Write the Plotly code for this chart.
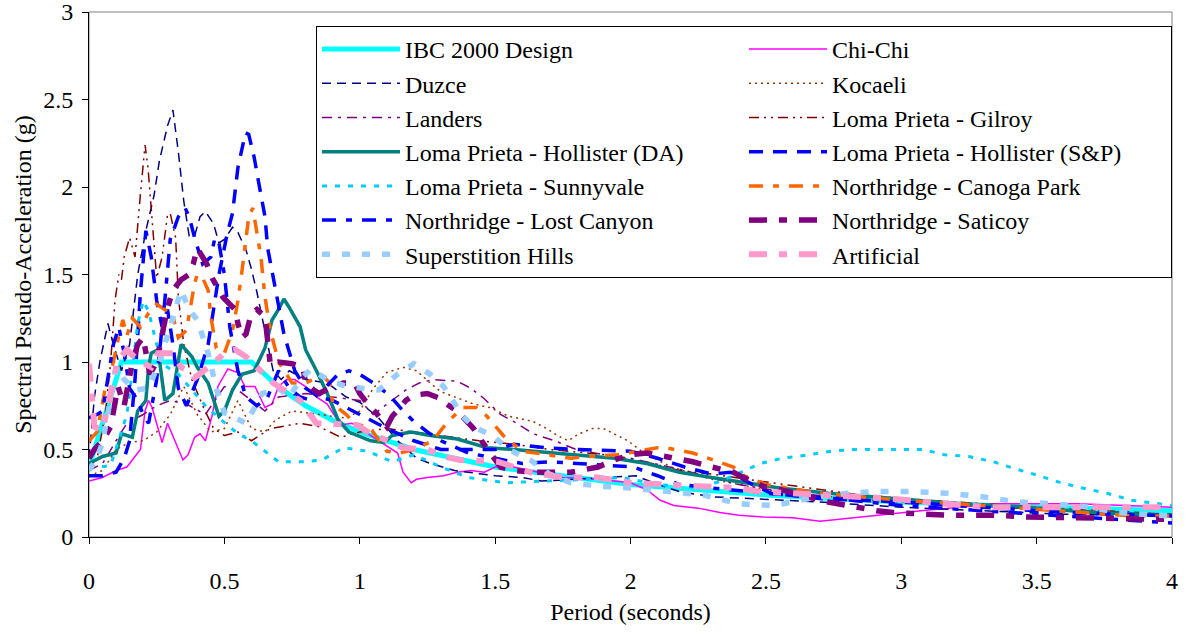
import plotly.graph_objects as go

# ---------------- data (period in s, spectral pseudo-acceleration in g) ----------------
T_IBC = [0, 0.12, 0.6, 0.7, 0.8, 0.9, 1.0, 1.2, 1.5, 2.0, 2.5, 3.0, 3.5, 4.0]
SA_IBC = [0.4, 1.0, 1.0, 0.857, 0.75, 0.667, 0.6, 0.5, 0.4, 0.3, 0.24, 0.2, 0.171, 0.15]

T_CHICHI = [0, 0.05, 0.1, 0.14, 0.17, 0.19, 0.207, 0.22, 0.233, 0.25, 0.27, 0.29, 0.32, 0.347, 0.366,
            0.39, 0.41, 0.43, 0.454, 0.476, 0.513, 0.55, 0.576, 0.613, 0.65, 0.676, 0.7, 0.73, 0.76,
            0.8, 0.84, 0.88, 0.9, 0.93, 0.97, 1.0, 1.03, 1.07, 1.11, 1.14, 1.16, 1.19, 1.21, 1.25,
            1.31, 1.36, 1.41, 1.46, 1.5, 1.54, 1.63, 1.75, 1.88, 2.0, 2.06, 2.11, 2.16, 2.25, 2.33,
            2.4, 2.49, 2.6, 2.7, 2.85, 2.97, 3.1, 3.22, 3.34, 3.46, 3.65, 3.83, 4.0]
SA_CHICHI = [0.32, 0.34, 0.38, 0.40, 0.46, 0.5, 0.72, 0.78, 0.74, 0.65, 0.54, 0.65, 0.54, 0.44, 0.47,
             0.57, 0.59, 0.55, 0.69, 0.86, 0.96, 0.94, 0.86, 0.86, 0.74, 0.76, 0.86, 0.9, 0.9,
             0.86, 0.8, 0.76, 0.71, 0.64, 0.65, 0.63, 0.59, 0.55, 0.51, 0.48, 0.37, 0.31, 0.33, 0.34,
             0.35, 0.37, 0.38, 0.37, 0.40, 0.41, 0.38, 0.34, 0.33, 0.31, 0.27, 0.21, 0.18, 0.165, 0.14,
             0.125, 0.115, 0.11, 0.09, 0.114, 0.135, 0.155, 0.17, 0.19, 0.19, 0.19, 0.18, 0.17]

T_DUZCE = [0, 0.02, 0.04, 0.07, 0.09, 0.12, 0.15, 0.18, 0.21, 0.24, 0.26, 0.29, 0.31, 0.33, 0.35,
           0.37, 0.39, 0.41, 0.43, 0.46, 0.48, 0.5, 0.53, 0.55, 0.58, 0.6, 0.62, 0.64, 0.66, 0.68,
           0.71, 0.74, 0.8, 0.88, 0.95, 1.0, 1.07, 1.14, 1.21, 1.26, 1.35, 1.45, 1.5, 1.6, 1.67,
           1.8, 1.9, 2.02, 2.1, 2.18, 2.3, 2.45, 2.7, 3.0, 3.3, 3.6, 4.0]
SA_DUZCE = [0.45, 0.8, 1.0, 1.22, 1.1, 0.95, 1.1, 1.5, 1.75, 1.95, 2.15, 2.35, 2.44, 2.2, 1.92,
            1.72, 1.72, 1.83, 1.86, 1.79, 1.68, 1.7, 1.77, 1.74, 1.64, 1.53, 1.4, 1.26, 1.1, 0.95,
            0.9, 0.95, 0.9, 0.88, 0.8, 0.77, 0.68, 0.55, 0.45, 0.42, 0.38, 0.36, 0.35, 0.34, 0.32,
            0.33, 0.34, 0.35, 0.3, 0.26, 0.23, 0.22, 0.2, 0.17, 0.15, 0.13, 0.12]

T_KOCAELI = [0, 0.05, 0.1, 0.15, 0.2, 0.25, 0.3, 0.35, 0.4, 0.45, 0.5, 0.55, 0.6, 0.65, 0.69, 0.75,
             0.85, 0.95, 1.0, 1.05, 1.1, 1.16, 1.21, 1.26, 1.3, 1.35, 1.42, 1.48, 1.55, 1.64, 1.69,
             1.73, 1.77, 1.81, 1.86, 1.9, 1.94, 1.99, 2.05, 2.15, 2.3, 2.5, 2.8, 3.0, 3.5, 4.0]
SA_KOCAELI = [0.35, 0.38, 0.5, 0.54, 0.55, 0.6, 0.7, 0.86, 0.7, 0.6, 0.62, 0.78, 0.62, 0.6, 0.67, 0.72,
              0.7, 0.68, 0.72, 0.85, 0.94, 0.97, 0.95, 0.88, 0.83, 0.8, 0.76, 0.74, 0.69, 0.66, 0.62,
              0.58, 0.55, 0.59, 0.62, 0.62, 0.59, 0.55, 0.48, 0.4, 0.33, 0.27, 0.22, 0.2, 0.16, 0.13]

T_LANDERS = [0, 0.05, 0.1, 0.14, 0.2, 0.25, 0.3, 0.36, 0.43, 0.5, 0.55, 0.6, 0.65, 0.7, 0.8, 0.9,
             1.0, 1.05, 1.1, 1.17, 1.22, 1.27, 1.36, 1.41, 1.46, 1.52, 1.58, 1.64, 1.72, 1.8, 1.9,
             2.0, 2.2, 2.4, 2.6, 3.0, 3.5, 4.0]
SA_LANDERS = [0.38, 0.42, 0.55, 0.65, 0.7, 0.75, 0.78, 0.76, 0.7, 0.86, 0.84, 0.78, 0.72, 0.8, 0.82, 0.8,
              0.78, 0.7, 0.76, 0.84, 0.88, 0.9, 0.89, 0.85, 0.79, 0.7, 0.65, 0.59, 0.55, 0.5, 0.47,
              0.45, 0.38, 0.3, 0.25, 0.2, 0.16, 0.13]

T_GILROY = [0, 0.03, 0.06, 0.08, 0.096, 0.11, 0.12, 0.13, 0.15, 0.17, 0.19, 0.207, 0.218, 0.233,
            0.25, 0.27, 0.29, 0.3, 0.32, 0.33, 0.35, 0.38, 0.42, 0.46, 0.5, 0.55, 0.6, 0.67, 0.78,
            0.85, 0.93, 1.0, 1.1, 1.2, 1.3, 1.44, 1.57, 1.7, 1.91, 2.08, 2.18, 2.3, 2.52, 2.8, 3.0,
            3.5, 4.0]
SA_GILROY = [0.4, 0.45, 0.7, 1.0, 1.35, 1.5, 1.47, 1.6, 1.71, 1.6, 1.96, 2.24, 2.11, 1.83,
             1.48, 1.6, 1.84, 1.85, 1.71, 1.37, 1.1, 0.9, 0.75, 0.62, 0.58, 0.6, 0.55, 0.62, 0.65,
             0.63, 0.57, 0.6, 0.62, 0.6, 0.58, 0.55, 0.53, 0.5, 0.47, 0.42, 0.38, 0.36, 0.31, 0.25, 0.22,
             0.17, 0.13]

T_HOLL_DA = [0, 0.05, 0.1, 0.12, 0.16, 0.18, 0.21, 0.22, 0.23, 0.255, 0.28, 0.31, 0.34, 0.38, 0.4,
             0.44, 0.48, 0.5, 0.53, 0.565, 0.61, 0.65, 0.676, 0.7, 0.72, 0.74, 0.78, 0.8, 0.84, 0.88,
             0.92, 0.96, 1.04, 1.09, 1.12, 1.19, 1.26, 1.36, 1.47, 1.57, 1.79, 1.94, 2.06, 2.18, 2.3,
             2.43, 2.55, 2.73, 2.97, 3.22, 3.46, 3.71, 4.0]
SA_HOLL_DA = [0.42, 0.46, 0.48, 0.59, 0.57, 0.72, 0.78, 0.97, 1.05, 1.07, 0.78, 0.82, 1.1, 1.03, 0.97,
              0.88, 0.69, 0.72, 0.84, 0.93, 0.95, 1.08, 1.24, 1.3, 1.36, 1.31, 1.2, 1.07, 0.95, 0.82,
              0.67, 0.6, 0.55, 0.54, 0.58, 0.6, 0.58, 0.56, 0.51, 0.5, 0.47, 0.45, 0.42, 0.37, 0.34,
              0.31, 0.28, 0.25, 0.22, 0.19, 0.17, 0.14, 0.125]

T_HOLL_SP = [0, 0.05, 0.1, 0.13, 0.15, 0.17, 0.19, 0.21, 0.23, 0.25, 0.27, 0.29, 0.31, 0.33, 0.36,
             0.4, 0.44, 0.48, 0.51, 0.53, 0.55, 0.565, 0.578, 0.59, 0.61, 0.625, 0.65, 0.66, 0.676,
             0.69, 0.72, 0.76, 0.8, 0.85, 0.9, 1.0, 1.1, 1.2, 1.3, 1.4, 1.5, 1.57, 1.69, 1.81, 2.0,
             2.1, 2.2, 2.3, 2.37, 2.45, 2.52, 2.7, 3.0, 3.3, 3.6, 4.0]
SA_HOLL_SP = [0.35, 0.35, 0.37, 0.45, 0.55, 0.9, 1.4, 1.75, 1.6, 1.35, 1.2, 1.3, 1.1, 0.85, 0.75,
              0.9, 1.1, 1.5, 1.73, 1.85, 2.11, 2.22, 2.31, 2.3, 2.17, 2.04, 1.83, 1.65, 1.52,
              1.39, 1.16, 0.95, 0.85, 0.8, 0.78, 0.7, 0.62, 0.55, 0.5, 0.5, 0.5, 0.53, 0.51, 0.5, 0.49,
              0.45, 0.4, 0.36, 0.37, 0.3, 0.25, 0.22, 0.2, 0.17, 0.14, 0.12]

T_SUNNY = [0, 0.04, 0.08, 0.11, 0.14, 0.16, 0.18, 0.2, 0.22, 0.25, 0.28, 0.33, 0.38, 0.43, 0.48,
           0.55, 0.6, 0.64, 0.7, 0.79, 0.86, 0.94, 1.03, 1.12, 1.2, 1.3, 1.4, 1.54, 1.71, 1.85, 1.97,
           2.1, 2.26, 2.35, 2.48, 2.56, 2.66, 2.74, 2.82, 2.91, 3.0, 3.08, 3.16, 3.25, 3.34, 3.42,
           3.51, 3.59, 3.67, 3.76, 3.85, 3.94, 4.0]
SA_SUNNY = [0.4, 0.4, 0.41, 0.55, 0.7, 0.95, 1.22, 1.35, 1.29, 1.1, 0.98, 0.93, 0.84, 0.75, 0.68,
            0.59, 0.55, 0.5, 0.43, 0.43, 0.44, 0.51, 0.49, 0.43, 0.47, 0.4, 0.34, 0.31, 0.32, 0.33, 0.34,
            0.3, 0.28, 0.33, 0.42, 0.45, 0.47, 0.49, 0.5, 0.5, 0.5, 0.5, 0.47, 0.46, 0.43, 0.39,
            0.35, 0.31, 0.28, 0.25, 0.21, 0.19, 0.18]

T_CANOGA = [0, 0.03, 0.06, 0.09, 0.11, 0.125, 0.14, 0.16, 0.19, 0.22, 0.25, 0.28, 0.31, 0.33, 0.36,
            0.39, 0.4, 0.42, 0.44, 0.45, 0.47, 0.5, 0.53, 0.55, 0.565, 0.577, 0.59, 0.605, 0.62,
            0.635, 0.65, 0.67, 0.7, 0.75, 0.8, 0.84, 0.87, 0.89, 0.9, 0.95, 0.98, 1.04, 1.1, 1.15,
            1.2, 1.27, 1.32, 1.38, 1.43, 1.47, 1.53, 1.6, 1.65, 1.78, 1.84, 1.95, 2.1, 2.13, 2.23,
            2.33, 2.38, 2.42, 2.5, 2.7, 3.0, 3.3, 3.6, 3.85, 4.0]
SA_CANOGA = [0.55, 0.6, 0.85, 1.0, 1.15, 1.24, 1.15, 1.25, 1.2, 1.28, 1.33, 1.3, 1.26, 1.14, 1.18,
             1.45, 1.5, 1.48, 1.41, 1.26, 1.08, 1.05, 1.18, 1.35, 1.52, 1.67, 1.83, 1.88, 1.73,
             1.6, 1.37, 1.18, 1.0, 0.88, 0.88, 0.91, 0.91, 0.88, 0.76, 0.7, 0.65, 0.62, 0.49, 0.48,
             0.5, 0.55, 0.65, 0.74, 0.74, 0.69, 0.58, 0.49, 0.48, 0.45, 0.46, 0.47, 0.51, 0.51, 0.48,
             0.43, 0.4, 0.35, 0.3, 0.25, 0.21, 0.18, 0.15, 0.12, 0.12]

T_LOST = [0, 0.03, 0.05, 0.07, 0.09, 0.11, 0.13, 0.15, 0.18, 0.2, 0.22, 0.25, 0.28, 0.3, 0.33,
          0.355, 0.37, 0.39, 0.42, 0.45, 0.465, 0.48, 0.5, 0.52, 0.55, 0.58, 0.62, 0.66, 0.7, 0.74,
          0.78, 0.82, 0.87, 0.92, 0.96, 1.0, 1.05, 1.11, 1.16, 1.2, 1.25, 1.3, 1.4, 1.5, 1.6, 1.7,
          1.8, 2.01, 2.1, 2.18, 2.3, 2.5, 2.75, 3.0, 3.3, 3.6, 3.85, 4.0]
SA_LOST = [0.68, 0.7, 0.72, 0.9, 1.1, 1.2, 1.05, 0.85, 0.78, 0.7, 0.65, 0.9, 1.35, 1.7, 1.83,
           1.88, 1.83, 1.71, 1.56, 1.6, 1.71, 1.68, 1.5, 1.2, 0.95, 0.8, 0.75, 0.8, 0.95, 0.85,
           0.8, 0.78, 0.85, 0.93, 0.95, 0.93, 0.88, 0.81, 0.72, 0.66, 0.6, 0.55, 0.48, 0.45, 0.42, 0.43,
           0.42, 0.4, 0.35, 0.3, 0.28, 0.25, 0.22, 0.18, 0.15, 0.12, 0.1, 0.08]

T_SATICOY = [0, 0.02, 0.05, 0.08, 0.107, 0.13, 0.16, 0.18, 0.2, 0.225, 0.25, 0.27, 0.29, 0.31, 0.34,
             0.37, 0.385, 0.4, 0.42, 0.435, 0.455, 0.475, 0.495, 0.52, 0.54, 0.55, 0.565, 0.58, 0.6,
             0.62, 0.65, 0.66, 0.67, 0.7, 0.75, 0.79, 0.8, 0.83, 0.85, 0.9, 0.94, 0.98, 1.0, 1.04,
             1.06, 1.1, 1.12, 1.15, 1.17, 1.2, 1.25, 1.3, 1.32, 1.36, 1.4, 1.42, 1.45, 1.48, 1.52,
             1.57, 1.65, 1.78, 1.81, 1.88, 1.94, 2.0, 2.06, 2.16, 2.23, 2.3, 2.38, 2.43, 2.49, 2.53,
             2.73, 2.91, 2.97, 3.16, 3.34, 3.46, 3.59, 3.83, 4.0]
SA_SATICOY = [0.45, 0.5, 0.55, 0.63, 0.86, 0.75, 1.0, 1.1, 1.14, 0.93, 1.0, 1.15, 1.31, 1.41, 1.47,
              1.5, 1.56, 1.65, 1.6, 1.56, 1.48, 1.43, 1.37, 1.33, 1.3, 1.22, 1.14, 1.16, 1.28,
              1.3, 1.26, 1.12, 0.98, 1.0, 0.99, 0.97, 0.88, 0.84, 0.82, 0.86, 0.88, 0.88, 0.82, 0.74,
              0.71, 0.63, 0.69, 0.74, 0.78, 0.81, 0.82, 0.79, 0.76, 0.72, 0.65, 0.62, 0.55, 0.49, 0.4,
              0.38, 0.37, 0.37, 0.38, 0.4, 0.44, 0.47, 0.48, 0.45, 0.43, 0.4, 0.37, 0.33, 0.29, 0.28,
              0.2, 0.15, 0.14, 0.125, 0.125, 0.115, 0.11, 0.1, 0.1]

T_SUPER = [0, 0.03, 0.05, 0.08, 0.1, 0.13, 0.17, 0.22, 0.26, 0.3, 0.34, 0.37, 0.4, 0.44, 0.47,
           0.5, 0.53, 0.58, 0.64, 0.7, 0.74, 0.78, 0.82, 0.88, 0.95, 1.07, 1.14, 1.2, 1.26, 1.31,
           1.38, 1.42, 1.49, 1.55, 1.63, 1.7, 1.78, 1.89, 2.0, 2.15, 2.27, 2.4, 2.53, 2.66, 2.8,
           2.92, 3.04, 3.17, 3.3, 3.43, 3.56, 3.7, 3.8, 3.95, 4.0]
SA_SUPER = [0.38, 0.45, 0.54, 0.8, 0.97, 0.9, 0.84, 0.85, 1.0, 1.2, 1.41, 1.3, 1.24, 1.05, 0.85,
            0.71, 0.69, 0.65, 0.82, 0.85, 0.8, 0.9, 0.96, 0.9, 0.86, 0.84, 0.93, 0.99, 0.93, 0.86,
            0.69, 0.63, 0.58, 0.5, 0.44, 0.36, 0.31, 0.29, 0.28, 0.26, 0.24, 0.19, 0.18, 0.22, 0.25,
            0.26, 0.26, 0.25, 0.23, 0.2, 0.19, 0.17, 0.14, 0.125, 0.12]

T_ART = [0, 0.01, 0.02, 0.05, 0.08, 0.107, 0.14, 0.18, 0.23, 0.255, 0.31, 0.34, 0.37, 0.39, 0.45,
         0.5, 0.54, 0.58, 0.62, 0.68, 0.74, 0.78, 0.84, 0.93, 0.99, 1.03, 1.1, 1.16, 1.25, 1.31,
         1.37, 1.51, 1.63, 1.75, 1.88, 2.0, 2.25, 2.4, 2.47, 2.6, 2.77, 2.96, 3.16, 3.33, 3.54,
         3.7, 3.83, 4.0]
SA_ART = [0.99, 0.78, 0.63, 0.61, 0.84, 1.01, 1.07, 1.01, 0.97, 1.05, 1.05, 0.97, 0.95, 0.91, 0.98,
          1.05, 1.07, 1.03, 0.97, 0.88, 0.82, 0.78, 0.65, 0.64, 0.64, 0.6, 0.55, 0.51, 0.5, 0.46,
          0.44, 0.43, 0.37, 0.34, 0.34, 0.31, 0.29, 0.28, 0.26, 0.25, 0.23, 0.22, 0.19, 0.17, 0.17,
          0.17, 0.17, 0.17]

SERIES_NAMES = ["IBC 2000 Design", "Chi-Chi", "Duzce", "Kocaeli", "Landers", "Loma Prieta - Gilroy",
                "Loma Prieta - Hollister (DA)", "Loma Prieta - Hollister (S&P)", "Loma Prieta - Sunnyvale",
                "Northridge - Canoga Park", "Northridge - Lost Canyon", "Northridge - Saticoy",
                "Superstition Hills", "Artificial"]

X_TICKS = [0, 0.5, 1, 1.5, 2, 2.5, 3, 3.5, 4]
Y_TICKS = [0, 0.5, 1, 1.5, 2, 2.5, 3]

# ---------------- styles ----------------
series = [
    (T_IBC, SA_IBC, "#00FFFF", 5, "solid"),
    (T_CHICHI, SA_CHICHI, "#FF00FF", 1.5, "solid"),
    (T_DUZCE, SA_DUZCE, "#000080", 1.5, "9px,6px"),
    (T_KOCAELI, SA_KOCAELI, "#993300", 1.5, "2px,4px"),
    (T_LANDERS, SA_LANDERS, "#800080", 1.5, "10px,6px,3px,6px"),
    (T_GILROY, SA_GILROY, "#800000", 1.5, "10px,5px,2px,5px,2px,5px"),
    (T_HOLL_DA, SA_HOLL_DA, "#008080", 3.5, "solid"),
    (T_HOLL_SP, SA_HOLL_SP, "#0000FF", 3.5, "14px,10px"),
    (T_SUNNY, SA_SUNNY, "#00CCFF", 3, "5px,8px"),
    (T_CANOGA, SA_CANOGA, "#FF6600", 3.5, "14px,10px,6px,10px"),
    (T_LOST, SA_LOST, "#0000FF", 3.5, "14px,10px,6px,10px"),
    (T_SATICOY, SA_SATICOY, "#800080", 5.5, "18px,12px,8px,12px"),
    (T_SUPER, SA_SUPER, "#99CCFF", 5.5, "8px,12px"),
    (T_ART, SA_ART, "#FF99CC", 6, "18px,12px,8px,12px"),
]

FONT = "Liberation Serif"

fig = go.Figure()
for name, (xs, ys, color, width, dash) in zip(SERIES_NAMES, series):
    fig.add_trace(go.Scatter(x=xs, y=ys, mode="lines", name=name,
                             line=dict(color=color, width=width, dash=dash)))

fig.update_layout(
    width=1187, height=634,
    margin=dict(l=89, r=15, t=12, b=97, autoexpand=False),
    paper_bgcolor="white", plot_bgcolor="white",
    font=dict(family=FONT, size=24, color="black"),
    showlegend=True,
    legend=dict(
        orientation="h", x=0.2096, y=0.9733, xanchor="left", yanchor="top",
        entrywidth=334, entrywidthmode="pixels", itemwidth=78,
        bgcolor="white", bordercolor="#000000", borderwidth=1,
        font=dict(family=FONT, size=24, color="black"),
    ),
    xaxis=dict(
        range=[0, 4], tickvals=X_TICKS, ticktext=[f"{v:g}" for v in X_TICKS],
        showgrid=False, zeroline=False, showline=True, linecolor="black", linewidth=1,
        automargin=False, ticks="outside", ticklen=6, tickcolor="black",
        ticklabelstandoff=16, ticklabeloverflow="allow",
        title=dict(text="Period (seconds)", font=dict(family=FONT, size=24), standoff=10),
    ),
    yaxis=dict(
        range=[0, 3], tickvals=Y_TICKS, ticktext=[f"{v:g}" for v in Y_TICKS],
        showgrid=False, zeroline=False, showline=True, linecolor="black", linewidth=1,
        automargin=False, ticks="outside", ticklen=6, tickcolor="black", ticklabelstandoff=4,
        ticklabeloverflow="allow",
        title=dict(text="Spectral Pseudo-Acceleration (g)", font=dict(family=FONT, size=24), standoff=4),
    ),
    shapes=[dict(type="rect", xref="paper", yref="paper", x0=0, y0=0, x1=1, y1=1,
                 line=dict(color="#808080", width=1), fillcolor="rgba(0,0,0,0)", layer="below")],
)

# remove the browser's default 8px body margin so the figure fills the window exactly
fig.write_html("out.html", config={"displayModeBar": False},
               post_script="document.body.style.margin='0px';")
